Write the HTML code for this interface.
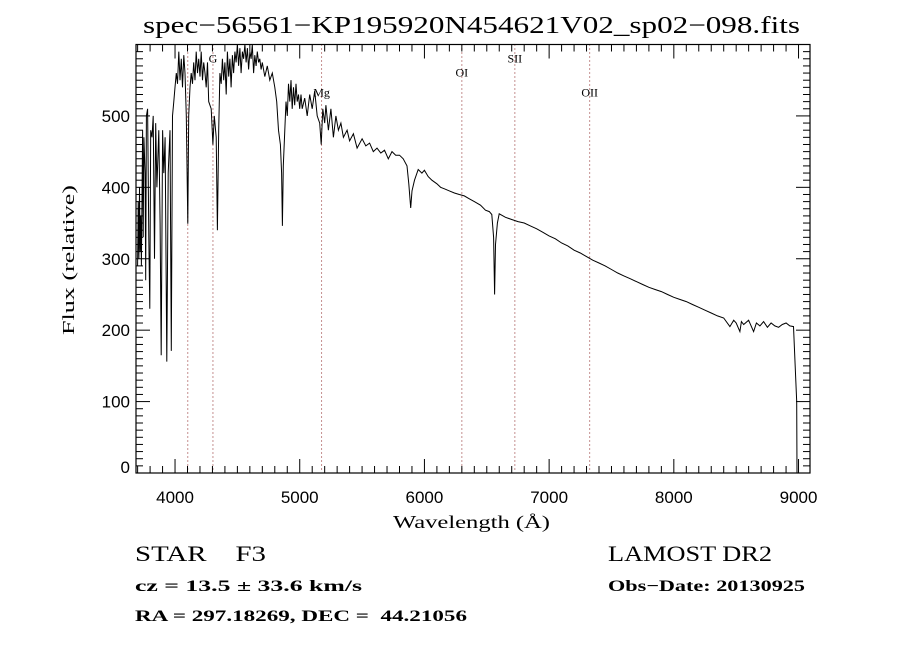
<!DOCTYPE html>
<html><head><meta charset="utf-8"><style>
body{margin:0;background:#fff}
svg{display:block}
text{font-family:"Liberation Serif",serif;fill:#000}
.sans{font-family:"Liberation Sans",sans-serif}
</style></head><body>
<svg id="chart" width="900" height="650" viewBox="0 0 900 650">
<rect width="900" height="650" fill="#fff"/>
<text x="143" y="33" font-size="24" textLength="657" lengthAdjust="spacingAndGlyphs" style="font-family:'Liberation Serif',serif">spec−56561−KP195920N454621V02_sp02−098.fits</text>
<g id="grid"></g>
<path id="spec" fill="none" stroke="#000" stroke-width="1"/>
<rect x="136" y="44.5" width="674" height="428.5" fill="none" stroke="#000" stroke-width="1.2"/>
<g id="axes"></g>
<text transform="translate(74,260) rotate(-90)" font-size="17" text-anchor="middle" textLength="150" lengthAdjust="spacingAndGlyphs">Flux (relative)</text>
<text x="393" y="528" font-size="18" textLength="157" lengthAdjust="spacingAndGlyphs">Wavelength (Å)</text>
<text x="135" y="561" font-size="22" textLength="131" lengthAdjust="spacingAndGlyphs">STAR &#160;&#160; F3</text>
<text x="135" y="591" font-size="16" font-weight="bold" textLength="227" lengthAdjust="spacingAndGlyphs">cz = 13.5 ± 33.6 km/s</text>
<text x="135" y="621" font-size="16" font-weight="bold" textLength="332" lengthAdjust="spacingAndGlyphs">RA = 297.18269, DEC = &#160;44.21056</text>
<text x="608" y="561" font-size="22" textLength="164" lengthAdjust="spacingAndGlyphs">LAMOST DR2</text>
<text x="608" y="591" font-size="16" font-weight="bold" textLength="197" lengthAdjust="spacingAndGlyphs">Obs−Date: 20130925</text>
</svg>
<script>
const wavelengths=[3700,3705,3710,3715,3720,3725,3730,3740,3745,3750,3760,3765,3770,3780,3790,3798,3805,3815,3825,3835,3845,3855,3870,3880,3889,3900,3910,3920,3934,3945,3960,3970,3980,3990,4000,4010,4020,4030,4040,4050,4060,4070,4080,4090,4102,4110,4120,4130,4140,4150,4160,4170,4180,4190,4200,4210,4220,4230,4240,4250,4260,4270,4290,4304,4315,4330,4340,4350,4360,4370,4380,4390,4400,4410,4420,4430,4440,4450,4460,4470,4480,4490,4500,4510,4520,4530,4540,4550,4560,4570,4580,4590,4600,4610,4620,4630,4640,4650,4660,4670,4680,4690,4700,4720,4740,4760,4780,4800,4815,4830,4845,4855,4861,4868,4880,4890,4900,4910,4920,4930,4940,4950,4960,4970,4980,4990,5000,5010,5020,5040,5060,5080,5100,5120,5140,5160,5172,5185,5200,5210,5230,5250,5270,5290,5310,5330,5350,5380,5400,5430,5460,5500,5530,5560,5590,5620,5650,5680,5710,5740,5770,5800,5830,5860,5875,5890,5900,5920,5950,5980,6000,6030,6060,6100,6130,6160,6200,6240,6280,6320,6360,6400,6450,6490,6520,6540,6555,6563,6570,6585,6600,6650,6700,6750,6800,6850,6900,6950,7000,7050,7100,7150,7200,7250,7300,7350,7400,7450,7500,7550,7600,7650,7700,7750,7800,7850,7900,7950,8000,8050,8100,8150,8200,8250,8300,8350,8400,8450,8480,8500,8530,8542,8560,8600,8640,8662,8690,8720,8750,8780,8810,8840,8870,8900,8930,8960,8985,8988,8992];
const fluxValues=[290,380,300,400,310,360,290,480,330,470,420,270,500,510,330,230,480,470,500,300,490,400,480,350,165,480,420,470,156,420,480,171,500,520,540,560,545,590,550,580,540,585,560,500,349,500,540,560,545,575,550,590,560,580,555,590,550,575,560,540,575,520,510,460,500,470,340,480,560,545,580,550,575,530,590,555,580,540,585,560,590,575,600,570,595,560,590,580,600,575,595,565,590,580,600,560,585,570,590,575,580,565,575,555,570,550,560,540,520,480,460,420,346,430,480,520,500,545,520,550,510,540,515,545,520,530,510,530,510,525,500,530,510,535,500,490,460,510,490,515,480,510,470,500,480,490,470,480,465,475,455,468,458,462,450,455,448,452,440,450,445,445,440,430,405,371,395,410,425,420,424,415,410,405,400,398,395,392,390,388,384,380,375,368,366,362,330,250,320,350,363,358,355,352,350,346,342,337,332,328,322,318,312,308,303,298,294,290,285,280,276,272,268,264,260,257,254,250,246,243,240,236,232,228,224,220,217,205,214,210,198,212,208,214,198,210,206,212,204,210,206,204,208,210,206,205,100,0];
const lineNames=["","G","Mg","OI","SII","OII"];
const lineWaves=[4102,4304,5175,6300,6725,7325];
const labelFlux=[0,575,527,555,575,527];
const xTicks=[4000,5000,6000,7000,8000,9000];
const yTicks=[0,100,200,300,400,500];
const X0=136,X1=810,Y0=44.5,Y1=473;
const LMIN=3687,LMAX=9092,FMIN=0,FMAX=600;
function xs(l){return X0+(l-LMIN)/(LMAX-LMIN)*(X1-X0);}
function ys(f){return Y1-(f-FMIN)/(FMAX-FMIN)*(Y1-Y0);}
const NS='http://www.w3.org/2000/svg';
let d='';
for(let i=0;i<wavelengths.length;i++){d+=(i?'L':'M')+xs(wavelengths[i]).toFixed(1)+' '+ys(fluxValues[i]).toFixed(1);}
document.getElementById('spec').setAttribute('d',d);
const grid=document.getElementById('grid');
for(let i=0;i<lineWaves.length;i++){
 const ln=document.createElementNS(NS,'line');
 ln.setAttribute('x1',xs(lineWaves[i]));ln.setAttribute('x2',xs(lineWaves[i]));
 ln.setAttribute('y1',Y0);ln.setAttribute('y2',Y1);
 ln.setAttribute('stroke','#8b2020');ln.setAttribute('stroke-dasharray','1 3');
 
 
 grid.appendChild(ln);
 if(lineNames[i]){
  const t=document.createElementNS(NS,'text');
  t.setAttribute('x',xs(lineWaves[i]));t.setAttribute('y',ys(labelFlux[i]));
  t.setAttribute('font-size','12');t.setAttribute('text-anchor','middle');
  t.textContent=lineNames[i];
  
  
  grid.appendChild(t);
 }
}
const axes=document.getElementById('axes');
function seg(x1,y1,x2,y2){const l=document.createElementNS(NS,'line');l.setAttribute('x1',x1);l.setAttribute('y1',y1);l.setAttribute('x2',x2);l.setAttribute('y2',y2);l.setAttribute('stroke','#000');l.setAttribute('stroke-width','1');


axes.appendChild(l);}
for(let l=3700;l<=9000;l+=100){const x=xs(l),L=(l%1000===0)?14:7;seg(x,Y1,x,Y1-L);seg(x,Y0,x,Y0+L);}
for(let f=0;f<=600;f+=10){const y=ys(f),L=(f%100===0)?14:7;seg(X0,y,X0+L,y);seg(X1,y,X1-L,y);}
xTicks.forEach(v=>{const t=document.createElementNS(NS,'text');t.setAttribute('x',xs(v));t.setAttribute('y',503);t.setAttribute('font-size','17');t.setAttribute('text-anchor','middle');t.setAttribute('class','sans');t.textContent=v;


axes.appendChild(t);});
yTicks.forEach(v=>{const t=document.createElementNS(NS,'text');t.setAttribute('x',130);t.setAttribute('y',Math.min(ys(v)+6,473));t.setAttribute('font-size','17');t.setAttribute('text-anchor','end');t.setAttribute('class','sans');t.textContent=v;


axes.appendChild(t);});
</script>
</body></html>
